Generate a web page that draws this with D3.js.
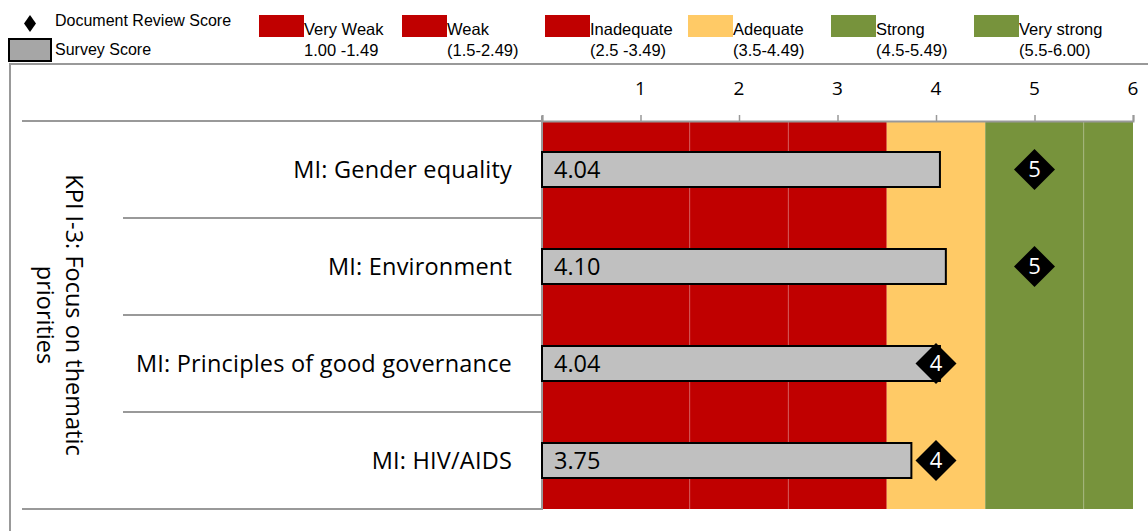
<!DOCTYPE html>
<html>
<head>
<meta charset="utf-8">
<script src="https://cdn.jsdelivr.net/npm/d3@7"></script>
<style>
  body { margin: 0; background: #fff; }
  svg { display: block; }
</style>
</head>
<body>
<svg id="chart"></svg>
<script>
// data
const categories = ["MI: Gender equality", "MI: Environment", "MI: Principles of good governance", "MI: HIV/AIDS"];
const surveyScores = [4.04, 4.10, 4.04, 3.75];
const reviewScores = [5, 5, 4, 4];
const groupTitle = ["KPI I-3: Focus on thematic", "priorities"];

const bandNames = ["Very Weak", "Weak", "Inadequate", "Adequate", "Strong", "Very strong"];
const bandRanges = ["1.00 -1.49", "(1.5-2.49)", "(2.5 -3.49)", "(3.5-4.49)", "(4.5-5.49)", "(5.5-6.00)"];
const bandStarts = [0, 1.5, 2.5, 3.5, 4.5, 5.5];
const bandEnds = [1.5, 2.5, 3.5, 4.5, 5.5, 6];
const bandColors = ["#C00000", "#C00000", "#C00000", "#FFCA66", "#77933C", "#77933C"];
const tickValues = [0, 1, 2, 3, 4, 5, 6];

const W = 1148, H = 531;
const svg = d3.select("#chart").attr("width", W).attr("height", H);

const x = d3.scaleLinear().domain([0, 6]).range([542, 1133]);
const y = d3.scaleBand().domain(categories).range([121, 509]);
const barH = 35;
const labelFont = "'Open Sans', 'Noto Sans', sans-serif";
const legendFont = "'Liberation Sans', Arial, sans-serif";

// outer frame (runs off the right/bottom edge)
svg.append("path")
  .attr("d", `M10,${H + 2} V64 H${W + 2}`)
  .attr("fill", "none").attr("stroke", "#999").attr("stroke-width", 2);

// rating bands
svg.append("g").selectAll("rect")
  .data(bandStarts)
  .join("rect")
  .attr("x", (d, i) => x(d))
  .attr("y", y.range()[0])
  .attr("width", (d, i) => x(bandEnds[i]) - x(d))
  .attr("height", y.range()[1] - y.range()[0])
  .attr("fill", (d, i) => bandColors[i]);

// light separators inside same-colour bands
svg.append("g").selectAll("line")
  .data([1.5, 2.5, 5.5])
  .join("line")
  .attr("x1", d => x(d)).attr("x2", d => x(d))
  .attr("y1", y.range()[0]).attr("y2", y.range()[1])
  .attr("stroke", "rgba(255,255,255,0.22)").attr("stroke-width", 1);

// top axis
const axis = d3.axisTop(x).tickValues(tickValues).tickSize(6).tickFormat("");
const axisG = svg.append("g").attr("transform", "translate(0,121)").call(axis);
axisG.select(".domain").attr("stroke", "#999").attr("stroke-width", 2);
axisG.selectAll(".tick line").attr("stroke", "#999").attr("stroke-width", 1.5);

svg.append("g").selectAll("text")
  .data(tickValues.filter(d => d > 0))
  .join("text")
  .attr("x", d => x(d))
  .attr("y", 95)
  .attr("text-anchor", "middle")
  .attr("font-family", labelFont)
  .attr("font-size", 19)
  .attr("fill", "#000")
  .text(d => d);

// left vertical axis line
svg.append("line")
  .attr("x1", 542).attr("x2", 542)
  .attr("y1", 116).attr("y2", 510)
  .attr("stroke", "#999").attr("stroke-width", 2);

// row separators
const seps = [y.range()[0]].concat(categories.slice(1).map(c => y(c)), [y.range()[1]]);
svg.append("g").selectAll("line")
  .data(seps)
  .join("line")
  .attr("x1", (d, i) => (i === 0 || i === seps.length - 1) ? 22 : 123)
  .attr("x2", 542)
  .attr("y1", d => d).attr("y2", d => d)
  .attr("stroke", "#999").attr("stroke-width", 2);

// survey score bars
svg.append("g").selectAll("rect")
  .data(categories)
  .join("rect")
  .attr("x", x(0))
  .attr("y", d => y(d) + y.bandwidth() / 2 - barH / 2)
  .attr("width", (d, i) => x(surveyScores[i]) - x(0))
  .attr("height", barH)
  .attr("fill", "#C0C0C0")
  .attr("stroke", "#000").attr("stroke-width", 2);

svg.append("g").selectAll("text")
  .data(categories)
  .join("text")
  .attr("x", 554)
  .attr("y", d => y(d) + y.bandwidth() / 2)
  .attr("dy", "0.36em")
  .attr("font-family", labelFont)
  .attr("font-size", 23.5)
  .attr("fill", "#000")
  .text((d, i) => surveyScores[i].toFixed(2));

// document review diamonds
const dg = svg.append("g").selectAll("g")
  .data(categories)
  .join("g")
  .attr("transform", (d, i) => `translate(${x(reviewScores[i])},${y(d) + y.bandwidth() / 2})`);
dg.append("path").attr("d", "M0,-20.5 L20.5,0 L0,20.5 L-20.5,0 Z").attr("fill", "#000");
dg.append("text")
  .attr("text-anchor", "middle")
  .attr("dy", "0.36em")
  .attr("font-family", labelFont)
  .attr("font-size", 22)
  .attr("fill", "#fff")
  .text((d, i) => reviewScores[i]);

// category labels
svg.append("g").selectAll("text")
  .data(categories)
  .join("text")
  .attr("x", 512)
  .attr("y", d => y(d) + y.bandwidth() / 2)
  .attr("dy", "0.36em")
  .attr("text-anchor", "end")
  .attr("font-family", labelFont)
  .attr("font-size", 23.5)
  .attr("letter-spacing", 0.2)
  .attr("fill", "#000")
  .text(d => d);

// rotated group title
const midY = (y.range()[0] + y.range()[1]) / 2;
svg.append("text")
  .attr("transform", `translate(66,${midY}) rotate(90)`)
  .attr("text-anchor", "middle")
  .attr("font-family", labelFont)
  .attr("font-size", 23.5)
  .attr("fill", "#000")
  .selectAll("tspan")
  .data(groupTitle)
  .join("tspan")
  .attr("x", 0)
  .attr("dy", (d, i) => i === 0 ? 0 : "1.25em")
  .text(d => d);

// legend: series
svg.append("path")
  .attr("d", "M30,15 L36,23.5 L30,32 L24,23.5 Z")
  .attr("fill", "#000");
svg.append("text").attr("x", 55).attr("y", 26)
  .attr("font-family", legendFont).attr("font-size", 16).attr("fill", "#000")
  .text("Document Review Score");
svg.append("rect").attr("x", 9).attr("y", 39).attr("width", 42).attr("height", 22)
  .attr("fill", "#A6A6A6").attr("stroke", "#000").attr("stroke-width", 2);
svg.append("text").attr("x", 55).attr("y", 55)
  .attr("font-family", legendFont).attr("font-size", 16).attr("fill", "#000")
  .text("Survey Score");

// legend: rating bands
const lg = svg.append("g").selectAll("g")
  .data(bandNames)
  .join("g")
  .attr("transform", (d, i) => `translate(${259 + i * 143},15)`);
lg.append("rect").attr("width", 45).attr("height", 22).attr("fill", (d, i) => bandColors[i]);
lg.append("text").attr("x", 45).attr("y", 20)
  .attr("font-family", legendFont).attr("font-size", 16.5).attr("fill", "#000")
  .text(d => d);
lg.append("text").attr("x", 45).attr("y", 41)
  .attr("font-family", legendFont).attr("font-size", 16.5).attr("fill", "#000")
  .text((d, i) => bandRanges[i]);
</script>
</body>
</html>
